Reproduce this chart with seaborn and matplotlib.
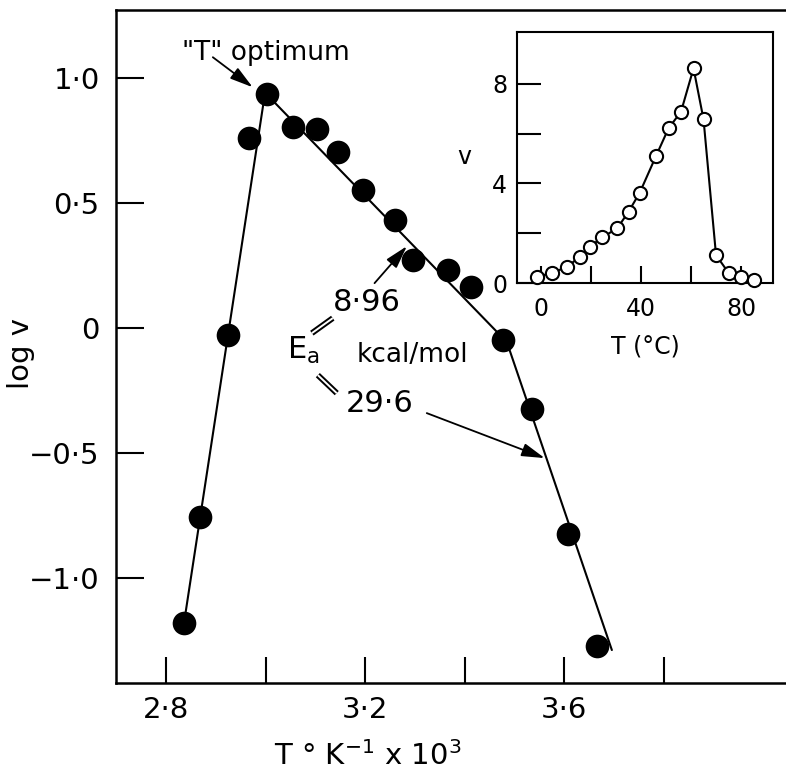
import matplotlib
matplotlib.use("Agg")
import numpy as np
import pandas as pd
import seaborn as sns
import matplotlib.pyplot as plt

# Arrhenius plot values (main panel)
inv_temp = [2.836, 2.868, 2.924, 2.966, 3.002, 3.055, 3.103, 3.146, 3.196,
            3.260, 3.296, 3.366, 3.413, 3.477, 3.535, 3.608, 3.666]
log_v = [-1.18, -0.756, -0.028, 0.76, 0.936, 0.804, 0.796, 0.704, 0.552,
         0.432, 0.272, 0.232, 0.164, -0.048, -0.324, -0.824, -1.272]

# fitted lines drawn through the points
fit_left_x = [2.836, 2.998]
fit_left_y = [-1.18, 0.93]
fit_right_x = [3.002, 3.485, 3.696]
fit_right_y = [0.936, -0.056, -1.288]

# inset: rate vs temperature
temp_c = [-1.5, 4.5, 10.5, 15.5, 19.5, 24.5, 30.5, 35, 39.5, 46, 51, 56,
          61, 65, 70, 75, 80, 85]
rate_v = [0.25, 0.41, 0.65, 1.06, 1.46, 1.83, 2.2, 2.86, 3.63, 5.1, 6.21,
          6.88, 8.62, 6.57, 1.12, 0.41, 0.23, 0.12]

main_ticks_x = [2.8, 3.0, 3.2, 3.4, 3.6, 3.8]
main_labels_x = ["2·8", "", "3·2", "", "3·6", ""]
main_ticks_y = [1.0, 0.5, 0.0, -0.5, -1.0]
main_labels_y = ["1·0", "0·5", "0", "\u22120·5", "\u22121·0"]
inset_ticks_x = [0, 20, 40, 60, 80]
inset_labels_x = ["0", "", "40", "", "80"]
inset_ticks_y = [0, 2, 4, 6, 8]
inset_labels_y = ["0", "", "4", "", "8"]

df_main = pd.DataFrame({"inv_temp": inv_temp, "log_v": log_v})
df_inset = pd.DataFrame({"T": temp_c, "v": rate_v})

sns.set_style("ticks", {"xtick.direction": "in", "ytick.direction": "in",
                        "axes.edgecolor": "black", "text.color": "black",
                        "axes.labelcolor": "black", "xtick.color": "black",
                        "ytick.color": "black"})
plt.rcParams["font.family"] = ["DejaVu Sans"]
plt.rcParams["mathtext.default"] = "regular"

fig = plt.figure(figsize=(7.86, 7.76), dpi=100)
ax = fig.add_axes([0.148, 0.1198, 0.852, 0.867])

ax.plot(fit_left_x, fit_left_y, color="black", lw=1.5, zorder=1)
ax.plot(fit_right_x, fit_right_y, color="black", lw=1.5, zorder=1)
sns.scatterplot(data=df_main, x="inv_temp", y="log_v", ax=ax, color="black",
                s=290, edgecolor="black", linewidth=0, zorder=3, clip_on=False)

ax.set_xlim(2.7, 4.046)
ax.set_ylim(-1.42, 1.272)
ax.set_xticks(main_ticks_x)
ax.set_xticklabels(main_labels_x)
ax.set_yticks(main_ticks_y)
ax.set_yticklabels(main_labels_y)
ax.tick_params(axis="x", length=19, width=1.5, labelsize=21, pad=9)
ax.tick_params(axis="y", length=20, width=1.5, labelsize=21, pad=12)
ax.spines["right"].set_visible(False)
for side in ["left", "top", "bottom"]:
    ax.spines[side].set_linewidth(1.8)
ax.set_xlabel("T ° K$^{-1}$ x 10$^{3}$", fontsize=21, va="center")
ax.xaxis.set_label_coords(0.376, -0.108)
ax.set_ylabel("log v", fontsize=21, va="center")
ax.yaxis.set_label_coords(-0.143, 0.49)

arrow = dict(arrowstyle="-|>,head_length=0.7,head_width=0.2", color="black",
             lw=1.3, shrinkA=0, shrinkB=0, mutation_scale=20)
ax.annotate("", xy=(2.974, 0.964), xytext=(2.894, 1.084), arrowprops=arrow)
ax.text(3.0, 1.10, '"T" optimum', fontsize=19, ha="center", va="center")
ax.annotate("", xy=(3.284, 0.328), xytext=(3.219, 0.18), arrowprops=arrow)
ax.annotate("", xy=(3.561, -0.52), xytext=(3.324, -0.34), arrowprops=arrow)
ax.text(3.203, 0.104, "8·96", fontsize=22, ha="center", va="center")
ax.text(3.229, -0.30, "29·6", fontsize=22, ha="center", va="center")
ax.text(3.296, -0.108, "kcal/mol", fontsize=19, ha="center", va="center")
ax.text(3.076, -0.09, "E$_{a}$", fontsize=22, ha="center", va="center")

# double-line connectors from E_a
for seg_x, seg_y in [([3.093, 3.135], [-0.02, 0.04]), ([3.105, 3.143], [-0.188, -0.26])]:
    ax.plot(seg_x, seg_y, color="black", lw=4.2, solid_capstyle="butt", zorder=2)
    ax.plot(seg_x, seg_y, color="white", lw=1.4, solid_capstyle="butt", zorder=2)

# inset
axin = fig.add_axes([0.6578, 0.6353, 0.3257, 0.3235])
sns.lineplot(data=df_inset, x="T", y="v", ax=axin, color="black", lw=1.5,
             sort=False, zorder=1)
sns.scatterplot(data=df_inset, x="T", y="v", ax=axin, facecolor="white",
                edgecolor="black", linewidth=1.5, s=90, zorder=3, clip_on=False)
axin.set_xlim(-9.6, 92.8)
axin.set_ylim(0, 10.08)
axin.set_xticks(inset_ticks_x)
axin.set_xticklabels(inset_labels_x)
axin.set_yticks(inset_ticks_y)
axin.set_yticklabels(inset_labels_y)
axin.tick_params(axis="x", length=12, width=1.5, labelsize=17, pad=10)
axin.tick_params(axis="y", length=17, width=1.5, labelsize=17, pad=7)
for side in axin.spines:
    axin.spines[side].set_linewidth(1.5)
axin.set_xlabel("T (°C)", fontsize=17, labelpad=10)
axin.set_ylabel("v", fontsize=17, rotation=0, labelpad=20, va="center")

fig.savefig("out.png", dpi=100)
